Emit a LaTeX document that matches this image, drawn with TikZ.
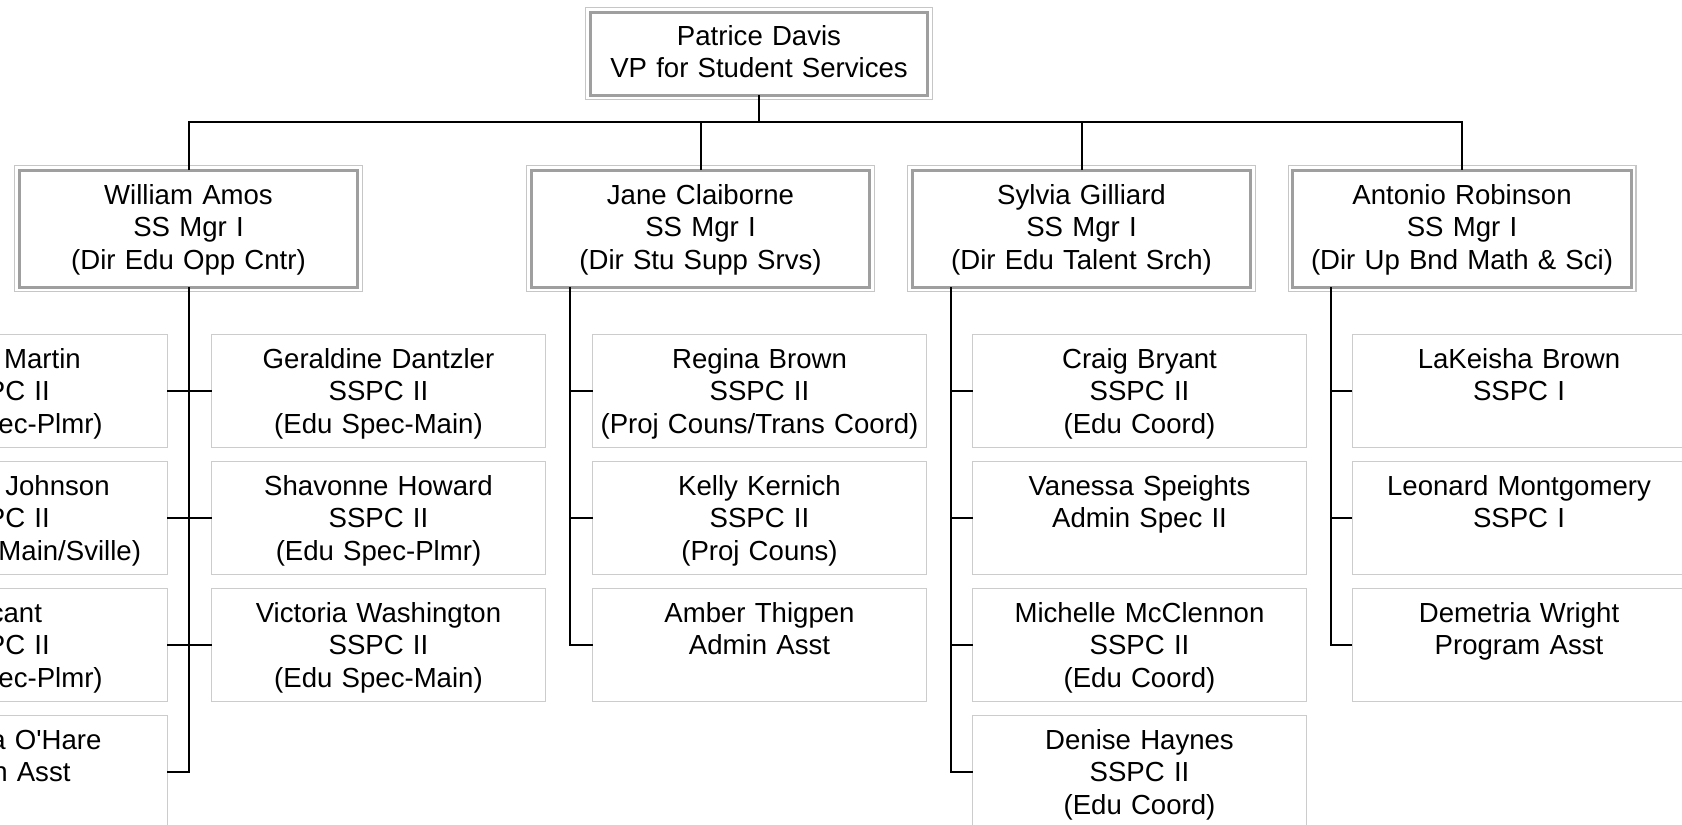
\documentclass[tikz,border=0pt]{standalone}
\usepackage{fontspec}
\setmainfont{Liberation Sans}

\begin{document}
\begin{tikzpicture}[
  font=\fontsize{15.7}{18.5}\selectfont,
  head/.style={rectangle, draw=gray!75, line width=0.6mm, fill=white,
               preaction={draw=gray!45, line width=2.1mm},
               preaction={draw=white, line width=1.6mm},
               inner sep=0pt, outer sep=0pt, align=center},
  head-top/.style={head, text width=67.5mm, text height=6.6mm, text depth=10mm},
  head-mgr/.style={head, text width=67.7mm, text height=6.8mm, text depth=16.6mm},
  staff/.style={rectangle, draw=gray!40, line width=0.2mm, fill=white,
                text width=66.8mm, text height=6.8mm, text depth=15.8mm,
                inner sep=0pt, outer sep=0pt, align=center},
  link/.style={line width=0.4mm}
]
  % page = visible part of the chart
  \useasboundingbox (0,0) rectangle (33.64,-16.48);
  \clip (0,0) rectangle (33.64,-16.48);

  % ===========================================================
  % VP and directors
  % ===========================================================
  \node[head-top] (PD) at (15.18,-1.07) {Patrice Davis\\VP for Student Services};

  \node[head-mgr] (WA) at ( 3.77,-4.57) {William Amos\\SS Mgr I\\(Dir Edu Opp Cntr)};
  \node[head-mgr] (JC) at (14.01,-4.57) {Jane Claiborne\\SS Mgr I\\(Dir Stu Supp Srvs)};
  \node[head-mgr] (SG) at (21.63,-4.57) {Sylvia Gilliard\\SS Mgr I\\(Dir Edu Talent Srch)};
  \node[head-mgr] (AR) at (29.24,-4.57) {Antonio Robinson\\SS Mgr I\\(Dir Up Bnd Math \& Sci)};

  % ===========================================================
  % Staff -- William Amos (left column is cut by the page edge)
  % ===========================================================
  \node[staff] (Ma) at (0.00, -7.81) {\hspace*{17mm}Martin\\SSPC II\\(Edu Spec-Plmr)};
  \node[staff] (Jo) at (0.00,-10.35) {\hspace*{23mm}Johnson\\SSPC II\\(Edu Spec-Main/Sville)};
  \node[staff] (Va) at (0.00,-12.89) {Vacant\\SSPC II\\(Edu Spec-Plmr)};
  \node[staff] (OH) at (0.00,-15.43) {\hspace*{18.4mm}a O\textquotesingle Hare\\Admin Asst};

  \node[staff] (GD) at (7.57, -7.81) {Geraldine Dantzler\\SSPC II\\(Edu Spec-Main)};
  \node[staff] (SH) at (7.57,-10.35) {Shavonne Howard\\SSPC II\\(Edu Spec-Plmr)};
  \node[staff] (VW) at (7.57,-12.89) {Victoria Washington\\SSPC II\\(Edu Spec-Main)};

  % Staff -- Jane Claiborne
  \node[staff] (RB) at (15.19, -7.81) {Regina Brown\\SSPC II\\(Proj Couns/Trans Coord)};
  \node[staff] (KK) at (15.19,-10.35) {Kelly Kernich\\SSPC II\\(Proj Couns)};
  \node[staff] (AT) at (15.19,-12.89) {Amber Thigpen\\Admin Asst};

  % Staff -- Sylvia Gilliard
  \node[staff] (CB) at (22.79, -7.81) {Craig Bryant\\SSPC II\\(Edu Coord)};
  \node[staff] (VS) at (22.79,-10.35) {Vanessa Speights\\Admin Spec II};
  \node[staff] (MM) at (22.79,-12.89) {Michelle McClennon\\SSPC II\\(Edu Coord)};
  \node[staff] (DH) at (22.79,-15.43) {Denise Haynes\\SSPC II\\(Edu Coord)};

  % Staff -- Antonio Robinson
  \node[staff] (LB) at (30.38, -7.81) {LaKeisha Brown\\SSPC I};
  \node[staff] (LM) at (30.38,-10.35) {Leonard Montgomery\\SSPC I};
  \node[staff] (DW) at (30.38,-12.89) {Demetria Wright\\Program Asst};

  % ===========================================================
  % Connectors
  % ===========================================================
  \coordinate (bus) at (15.18,-2.44);
  \draw[link] (PD.south) -- (bus);
  \draw[link] (WA.north) |- (bus) -| (AR.north);
  \draw[link] (JC.north) -- (JC.north |- bus);
  \draw[link] (SG.north) -- (SG.north |- bus);

  % William: trunk between the two columns
  \draw[link] (WA.south) -- (WA.south |- OH.east) -- (OH.east);
  \draw[link] (Ma.east) -- (GD.west);
  \draw[link] (Jo.east) -- (SH.west);
  \draw[link] (Va.east) -- (VW.west);

  % Jane
  \draw[link] (JC.south -| RB.west) ++(-0.46,0) |- (AT.west);
  \draw[link] (RB.west) -- ++(-0.46,0);
  \draw[link] (KK.west) -- ++(-0.46,0);

  % Sylvia
  \draw[link] (SG.south -| CB.west) ++(-0.44,0) |- (DH.west);
  \draw[link] (CB.west) -- ++(-0.44,0);
  \draw[link] (VS.west) -- ++(-0.44,0);
  \draw[link] (MM.west) -- ++(-0.44,0);

  % Antonio
  \draw[link] (AR.south -| LB.west) ++(-0.42,0) |- (DW.west);
  \draw[link] (LB.west) -- ++(-0.42,0);
  \draw[link] (LM.west) -- ++(-0.42,0);

\end{tikzpicture}
\end{document}
